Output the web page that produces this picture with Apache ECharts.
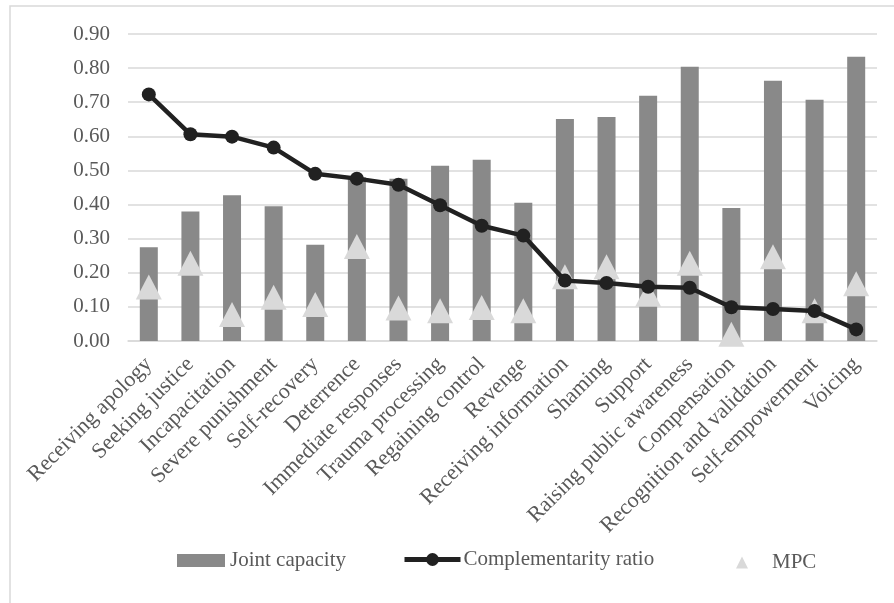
<!DOCTYPE html>
<html>
<head>
<meta charset="utf-8">
<script src="https://cdn.jsdelivr.net/npm/echarts@6/dist/echarts.min.js"></script>
<style>
  html, body { margin: 0; padding: 0; background: #fff; }
  #chart { width: 894px; height: 603px; }
</style>
</head>
<body>
<div id="chart"></div>
<script>
// Justice needs: joint capacity, complementarity ratio and MPC per need
const categories = [
  'Receiving apology', 'Seeking justice', 'Incapacitation', 'Severe punishment',
  'Self-recovery', 'Deterrence', 'Immediate responses', 'Trauma processing',
  'Regaining control', 'Revenge', 'Receiving information', 'Shaming', 'Support',
  'Raising public awareness', 'Compensation', 'Recognition and validation',
  'Self-empowerment', 'Voicing'
];
const jointCapacity = [0.275, 0.380, 0.427, 0.395, 0.282, 0.480, 0.476, 0.514, 0.531,
  0.405, 0.651, 0.657, 0.719, 0.804, 0.390, 0.763, 0.707, 0.833];
const complementarityRatio = [0.723, 0.606, 0.599, 0.567, 0.490, 0.476, 0.458, 0.398,
  0.338, 0.309, 0.177, 0.170, 0.159, 0.156, 0.099, 0.094, 0.088, 0.034];
const mpc = [0.158, 0.228, 0.078, 0.128, 0.107, 0.277, 0.097, 0.089, 0.098, 0.089,
  0.188, 0.218, 0.137, 0.228, 0.020, 0.247, 0.089, 0.168];
const yTicks = { min: 0, max: 0.9, step: 0.1 };

const FONT = 'Liberation Serif';
const TEXT = '#595959';

const chart = echarts.init(document.getElementById('chart'), null, { renderer: 'canvas' });
chart.setOption({
  backgroundColor: '#ffffff',
  animation: false,
  textStyle: { fontFamily: FONT },
  graphic: [{
    type: 'rect',
    shape: { x: 10, y: 6, width: 900, height: 620 },
    style: { fill: 'none', stroke: '#d9d9d9', lineWidth: 1.5 },
    silent: true
  }],
  grid: { left: 128, right: 17, top: 34, bottom: 262 },
  legend: [
    {
      data: ['Joint capacity'], left: 172, top: 545, icon: 'rect',
      itemWidth: 48, itemHeight: 13,
      textStyle: { fontFamily: FONT, fontSize: 21, color: TEXT }
    },
    {
      data: ['Complementarity ratio'], left: 397, top: 544,
      itemWidth: 56, itemHeight: 16,
      lineStyle: { width: 5 },
      textStyle: { fontFamily: FONT, fontSize: 21, color: TEXT, padding: [0, 0, 0, -2] }
    },
    {
      data: ['MPC'], left: 731, top: 547, icon: 'triangle',
      itemWidth: 12, itemHeight: 12,
      textStyle: { fontFamily: FONT, fontSize: 21, color: TEXT, padding: [0, 0, 0, 19] }
    }
  ],
  xAxis: {
    type: 'category',
    data: categories,
    axisLine: { show: true, lineStyle: { color: '#d9d9d9', width: 1.5 } },
    axisTick: { show: false },
    axisLabel: {
      interval: 0, rotate: 45, margin: 20,
      fontFamily: FONT, fontSize: 22, color: TEXT
    }
  },
  yAxis: {
    type: 'value',
    min: yTicks.min, max: yTicks.max, interval: yTicks.step,
    axisLine: { show: false },
    axisTick: { show: false },
    splitLine: { lineStyle: { color: '#d9d9d9', width: 1.5 } },
    axisLabel: {
      margin: 18, fontFamily: FONT, fontSize: 21, color: TEXT,
      formatter: v => v.toFixed(2)
    }
  },
  series: [
    {
      name: 'Joint capacity', type: 'bar', data: jointCapacity,
      barWidth: 18, itemStyle: { color: '#898989' }
    },
    {
      name: 'Complementarity ratio', type: 'line', data: complementarityRatio,
      symbol: 'circle', symbolSize: 14,
      lineStyle: { color: '#212121', width: 4.5 },
      itemStyle: { color: '#212121' }
    },
    {
      name: 'MPC', type: 'scatter', data: mpc,
      symbol: 'triangle', symbolSize: [26, 25],
      itemStyle: { color: '#d9d9d9', opacity: 1 }
    }
  ]
});
</script>
</body>
</html>
